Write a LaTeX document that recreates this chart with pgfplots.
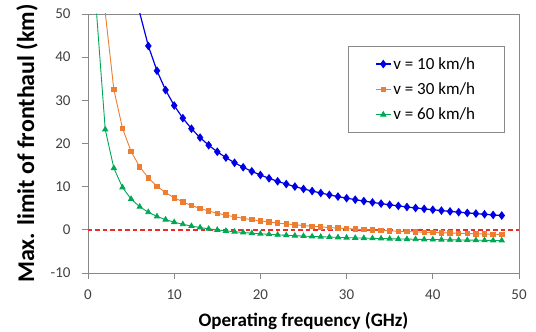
\documentclass[border=0pt]{standalone}
\usepackage{fontspec}
\setmainfont{Carlito}
\usepackage{pgfplots}
\pgfplotsset{compat=1.18}
\definecolor{cblue}{RGB}{0,0,230}
\definecolor{corange}{RGB}{237,125,49}
\definecolor{cgreen}{RGB}{0,168,84}
\definecolor{cred}{RGB}{240,40,40}
\definecolor{axgray}{RGB}{137,137,137}
\definecolor{ticktext}{RGB}{64,64,64}
\begin{document}
\begin{tikzpicture}
\begin{axis}[
  name=ax,
  scale only axis,
  width=431pt, height=259pt,
  xmin=0, xmax=50, ymin=-10, ymax=50,
  xtick={0,10,...,50}, ytick={-10,0,...,50},
  xtick pos=bottom, ytick pos=left,
  tick align=outside,
  major tick length=6pt,
  axis line style={axgray, line width=0.8pt},
  every tick/.style={axgray, line width=0.8pt},
  /pgf/number format/assume math mode=true,
  ticklabel style={font=\fontsize{15}{15}\selectfont, text=ticktext},
  yticklabel style={xshift=-8pt},
  xticklabel style={yshift=-7pt},
  xlabel={\textbf{Operating frequency (GHz)}},
  ylabel={\textbf{Max. limit of fronthaul (km)}},
  xlabel style={font=\fontsize{19}{19}\selectfont, yshift=-6pt},
  ylabel style={font=\fontsize{24}{24}\selectfont, yshift=6pt},
  legend style={
    at={(rel axis cs:0.603,0.876)}, anchor=north west,
    draw=axgray, line width=0.6pt,
    font=\fontsize{17}{17}\selectfont,
    row sep=8pt, inner xsep=27pt, inner ysep=9pt,
    legend cell align=left,
  },
  legend image code/.code={
    \draw[#1] (0pt,0pt) -- (15pt,0pt);
    \draw[#1, mark repeat=2, mark phase=2] plot coordinates {(0pt,0pt) (7.5pt,0pt) (15pt,0pt)};
  },
]
\addplot[color=cred, line width=1.5pt, dash pattern=on 4.5pt off 3pt, forget plot] table {
x y
0 0
50 0
};
% line segments above the axis top (drawn without marks)
\addplot[cblue, line width=1.2pt, forget plot] coordinates {(6,50.27) (7,42.60)};
\addplot[corange, line width=0.9pt, forget plot] coordinates {(2,50.35) (3,32.47)};
\addplot[cgreen, line width=0.9pt, forget plot] coordinates {(1,50.07) (2,23.24)};
\addplot[cblue, line width=1.2pt, mark=diamond*, mark size=3.4pt, mark options={solid, fill=cblue, draw=cblue}] coordinates {
(7,42.60) (8,36.85) (9,32.38) (10,28.80) (11,25.87) (12,23.43) (13,21.37) (14,19.60)
(15,18.07) (16,16.73) (17,15.54) (18,14.49) (19,13.55) (20,12.70) (21,11.93) (22,11.24)
(23,10.60) (24,10.02) (25,9.48) (26,8.98) (27,8.53) (28,8.10) (29,7.70) (30,7.33)
(31,6.99) (32,6.66) (33,6.36) (34,6.07) (35,5.80) (36,5.54) (37,5.30) (38,5.07)
(39,4.86) (40,4.65) (41,4.45) (42,4.27) (43,4.09) (44,3.92) (45,3.76) (46,3.60)
(47,3.45) (48,3.31)};
\addlegendentry{v = 10 km/h}
\addplot[corange, line width=0.9pt, mark=square*, mark size=2.2pt, mark options={solid, fill=corange, draw=corange}] coordinates {
(3,32.47) (4,23.53) (5,18.16) (6,14.58) (7,12.03) (8,10.11) (9,8.62) (10,7.43)
(11,6.45) (12,5.64) (13,4.95) (14,4.36) (15,3.85) (16,3.41) (17,3.01) (18,2.66)
(19,2.35) (20,2.07) (21,1.81) (22,1.58) (23,1.37) (24,1.17) (25,0.99) (26,0.83)
(27,0.67) (28,0.53) (29,0.40) (30,0.28) (31,0.16) (32,0.05) (33,-0.05) (34,-0.14)
(35,-0.23) (36,-0.32) (37,-0.40) (38,-0.48) (39,-0.55) (40,-0.62) (41,-0.68) (42,-0.75)
(43,-0.80) (44,-0.86) (45,-0.92) (46,-0.97) (47,-1.02) (48,-1.06)};
\addlegendentry{v = 30 km/h}
\addplot[cgreen, line width=0.9pt, mark=triangle*, mark size=2.9pt, mark options={solid, fill=cgreen, draw=cgreen}] coordinates {
(2,23.24) (3,14.29) (4,9.82) (5,7.13) (6,5.35) (7,4.07) (8,3.11) (9,2.36)
(10,1.77) (11,1.28) (12,0.87) (13,0.53) (14,0.23) (15,-0.02) (16,-0.25) (17,-0.44)
(18,-0.62) (19,-0.78) (20,-0.92) (21,-1.04) (22,-1.16) (23,-1.27) (24,-1.36) (25,-1.45)
(26,-1.54) (27,-1.61) (28,-1.68) (29,-1.75) (30,-1.81) (31,-1.87) (32,-1.92) (33,-1.97)
(34,-2.02) (35,-2.07) (36,-2.11) (37,-2.15) (38,-2.19) (39,-2.22) (40,-2.26) (41,-2.29)
(42,-2.32) (43,-2.35) (44,-2.38) (45,-2.41) (46,-2.43) (47,-2.46) (48,-2.48)};
\addlegendentry{v = 60 km/h}
\end{axis}
\pgfresetboundingbox
\path[use as bounding box] ([shift={(-88pt,-59pt)}]ax.south west) rectangle ([shift={(17pt,14pt)}]ax.north east);
\end{tikzpicture}
\end{document}
